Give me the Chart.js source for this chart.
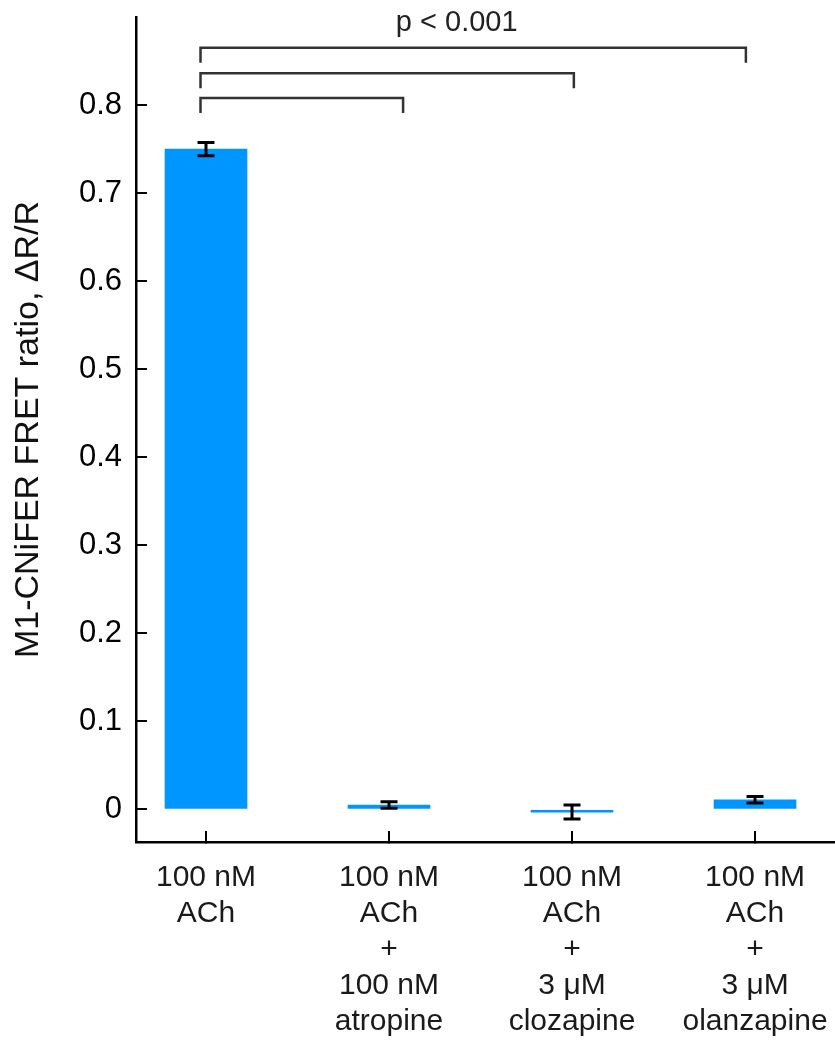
<!DOCTYPE html>
<html>
<head>
<meta charset="utf-8">
<script src="https://cdn.jsdelivr.net/npm/chart.js@4/dist/chart.umd.min.js"></script>
<style>
  html, body { margin: 0; padding: 0; background: #fff; }
  #wrap { width: 835px; height: 1047px; }
</style>
</head>
<body>
<div id="wrap"><canvas id="chart"></canvas></div>
<script>
const categories = [
  ["100 nM", "ACh"],
  ["100 nM", "ACh", "+", "100 nM", "atropine"],
  ["100 nM", "ACh", "+", "3 μM", "clozapine"],
  ["100 nM", "ACh", "+", "3 μM", "olanzapine"],
];
const means = [0.75, 0.005, -0.003, 0.011];
const errors = [0.0075, 0.0038, 0.008, 0.0038];
const yTicks = [0, 0.1, 0.2, 0.3, 0.4, 0.5, 0.6, 0.7, 0.8];
// [from, to, height] of each significance bracket, in axis units
const brackets = [
  [-0.03, 1.077, 0.808],
  [-0.03, 2.01, 0.836],
  [-0.03, 2.95, 0.865],
];
const sigLabel = "p < 0.001";
const sigLabelX = 1.37;
const sigLabelY = 0.893;

const FONT = '"Liberation Sans", Arial, Helvetica, sans-serif';

const annotations = {
  id: "annotations",
  afterDatasetsDraw(chart) {
    const { ctx, scales } = chart;
    const x = scales.x, y = scales.y;
    ctx.save();
    // error bars
    ctx.strokeStyle = "#000";
    ctx.lineWidth = 3;
    means.forEach((m, i) => {
      const px = x.getPixelForValue(i);
      const top = y.getPixelForValue(m + errors[i]);
      const bot = y.getPixelForValue(m - errors[i]);
      ctx.beginPath();
      ctx.moveTo(px, top); ctx.lineTo(px, bot);
      ctx.moveTo(px - 8.5, top); ctx.lineTo(px + 8.5, top);
      ctx.moveTo(px - 8.5, bot); ctx.lineTo(px + 8.5, bot);
      ctx.stroke();
    });
    // significance brackets
    ctx.strokeStyle = "#333";
    ctx.lineWidth = 2.5;
    brackets.forEach(([a, b, h]) => {
      const x1 = x.getPixelForValue(a);
      const x2 = x.getPixelForValue(b);
      const py = y.getPixelForValue(h);
      ctx.beginPath();
      ctx.moveTo(x1, py + 15); ctx.lineTo(x1, py);
      ctx.lineTo(x2, py); ctx.lineTo(x2, py + 15);
      ctx.stroke();
    });
    ctx.fillStyle = "#222";
    ctx.font = "29px " + FONT;
    ctx.textAlign = "center";
    ctx.textBaseline = "middle";
    ctx.fillText(sigLabel, x.getPixelForValue(sigLabelX), y.getPixelForValue(sigLabelY));
    ctx.restore();
  },
};

new Chart(document.getElementById("chart"), {
  type: "bar",
  data: {
    datasets: [
      {
        data: means.map((v, i) => ({ x: i, y: v })),
        backgroundColor: "#0096ff",
        borderWidth: 0,
        barThickness: 82,
      },
    ],
  },
  options: {
    responsive: true,
    maintainAspectRatio: false,
    animation: false,
    layout: { padding: { top: 17, right: 0, left: 0, bottom: 0 } },
    plugins: { legend: { display: false }, tooltip: { enabled: false } },
    scales: {
      x: {
        type: "linear",
        offset: false,
        min: -0.3825,
        max: 3.437,
        afterBuildTicks: (s) => { s.ticks = categories.map((_, i) => ({ value: i })); },
        afterFit: (s) => { s.height = 205; s.paddingLeft = 0; s.paddingRight = 0; },
        grid: { offset: false, drawOnChartArea: false, drawTicks: true, tickLength: -11, color: "#000", lineWidth: 2 },
        border: { display: true, color: "#000", width: 2.5 },
        ticks: {
          autoSkip: false,
          maxRotation: 0,
          padding: 29,
          color: "#1a1a1a",
          font: { family: FONT, size: 30, lineHeight: 1.2 },
          callback: (v) => categories[v] || "",
        },
      },
      y: {
        min: -0.037,
        max: 0.9,
        afterBuildTicks: (s) => { s.ticks = yTicks.map((v) => ({ value: v })); },
        afterFit: (s) => { s.width = 136; s.paddingTop = 0; s.paddingBottom = 0; },
        grid: { drawOnChartArea: false, drawTicks: true, tickLength: -11, color: "#000", lineWidth: 2 },
        border: { display: true, color: "#000", width: 2.5 },
        ticks: {
          padding: 25,
          color: "#000",
          font: { family: FONT, size: 31 },
          callback: (v) => String(Math.round(v * 10) / 10),
        },
        title: {
          display: true,
          text: "M1-CNiFER FRET ratio, ΔR/R",
          color: "#111",
          font: { family: FONT, size: 34, lineHeight: 1.2 },
          padding: { top: 8, bottom: 0 },
        },
      },
    },
  },
  plugins: [annotations],
});
</script>
</body>
</html>
